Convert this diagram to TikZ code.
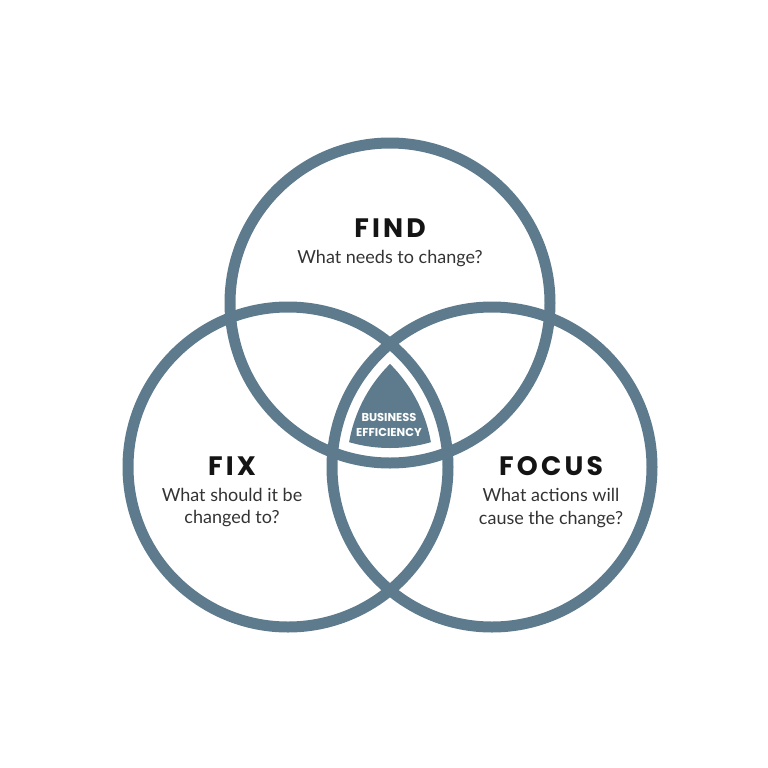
\documentclass[tikz,border=0pt]{standalone}
\usepackage{fontspec}
\setmainfont{Lato}
\newfontfamily\titlefont[LetterSpace=12]{Poppins}
\newfontfamily\tagfont{Poppins}
\usetikzlibrary{positioning}
\definecolor{Slate}{HTML}{5E7B8D}
\definecolor{Ink}{HTML}{141414}
\definecolor{Body}{HTML}{333333}
\tikzset{
    ring/.style={circle, draw=Slate, line width=8.25pt, minimum size=240pt, inner sep=0pt},
    headline/.style={font=\titlefont\bfseries\fontsize{20}{20}\selectfont, text=Ink, inner sep=0pt},
    question/.style={font=\fontsize{13.5}{17}\selectfont, text=Body, align=center, inner sep=0pt},
    core/.style={font=\tagfont\bfseries\fontsize{8.6}{11.5}\selectfont, text=white, align=center, inner sep=0pt},
}
\begin{document}
\begin{tikzpicture}[x=0.75pt, y=-0.75pt]
    \useasboundingbox (0,0) rectangle (768,768);

    % Kreise
    \node[ring] (find) at (390,303) {};
    \node[ring] (fix) at (288,467) {};
    \node[ring] (focus) at (492,467) {};

    % Schnittmenge
    \begin{scope}
        \clip (find.center) circle[radius=145];
        \clip (fix.center) circle[radius=145];
        \clip (focus.center) circle[radius=145];
        \fill[Slate] (300,320) rectangle (480,470);
    \end{scope}
    \node[core] (eff) at (389,425) {BUSINESS\\EFFICIENCY};

    % Beschriftungen
    \node[headline] (findt) at (390,228) {FIND};
    \node[question, below=9pt of findt] (findq) {What needs to change?};

    \node[headline] (fixt) at (232,466) {FIX};
    \node[question, below=9pt of fixt] (fixq) {What should it be\\changed to?};

    \node[headline] (focust) at (551,466) {FOCUS};
    \node[question, below=9pt of focust] (focusq) {What actions will\\cause the change?};
\end{tikzpicture}
\end{document}
